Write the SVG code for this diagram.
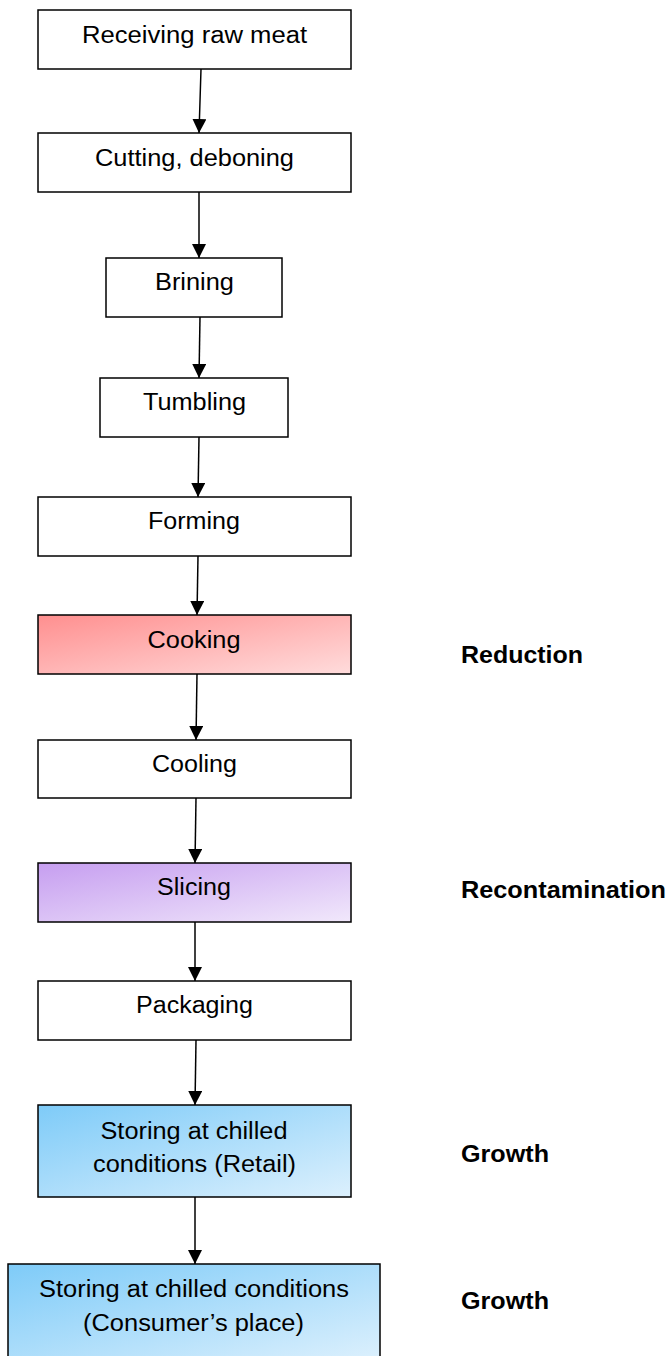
<svg xmlns="http://www.w3.org/2000/svg" width="669" height="1356" viewBox="0 0 669 1356">
<defs>
<linearGradient id="gRed" x1="0" y1="0" x2="1" y2="1"><stop offset="0" stop-color="#ff8f8f"/><stop offset="1" stop-color="#ffdcdc"/></linearGradient>
<linearGradient id="gPur" x1="0" y1="0" x2="1" y2="1"><stop offset="0" stop-color="#c69ef0"/><stop offset="1" stop-color="#f1e8fb"/></linearGradient>
<linearGradient id="gBlue" x1="0" y1="0" x2="1" y2="1"><stop offset="0" stop-color="#7ecbf8"/><stop offset="1" stop-color="#dcf0fd"/></linearGradient>
<marker id="arr" viewBox="0 0 10 10" refX="10" refY="5" markerWidth="14" markerHeight="14" markerUnits="userSpaceOnUse" orient="auto"><path d="M0,0 L10,5 L0,10 Z" fill="#000"/></marker>
<style>
.box{fill:#fff;stroke:#000;stroke-width:1.5}
.t{font-family:"Liberation Sans",Arial,sans-serif;font-size:23px;fill:#000;text-anchor:middle}
.lab{font-family:"Liberation Sans",Arial,sans-serif;font-size:23px;font-weight:bold;fill:#000}
.c{stroke:#000;stroke-width:1.5;fill:none;marker-end:url(#arr)}
</style>
</defs>
<rect width="669" height="1356" fill="#fff"/>
<g id="connectors">
<line class="c" x1="201" y1="69" x2="199" y2="133"/>
<line class="c" x1="199" y1="192" x2="199" y2="258"/>
<line class="c" x1="200" y1="317" x2="199" y2="378"/>
<line class="c" x1="199" y1="437" x2="198" y2="497"/>
<line class="c" x1="198" y1="556" x2="197" y2="615"/>
<line class="c" x1="197" y1="674" x2="196" y2="740"/>
<line class="c" x1="196" y1="798" x2="195" y2="863"/>
<line class="c" x1="195" y1="922" x2="195" y2="981"/>
<line class="c" x1="196" y1="1040" x2="195" y2="1105"/>
<line class="c" x1="195" y1="1197" x2="195" y2="1264"/>
</g>
<g id="n1"><rect class="box" x="38" y="10" width="313" height="59"/><text class="t" x="194.5" y="43" textLength="225" lengthAdjust="spacingAndGlyphs">Receiving raw meat</text></g>
<g id="n2"><rect class="box" x="38" y="133" width="313" height="59"/><text class="t" x="194.5" y="166" textLength="199" lengthAdjust="spacingAndGlyphs">Cutting, deboning</text></g>
<g id="n3"><rect class="box" x="106" y="258" width="176" height="59"/><text class="t" x="194.5" y="290" textLength="79" lengthAdjust="spacingAndGlyphs">Brining</text></g>
<g id="n4"><rect class="box" x="100" y="378" width="188" height="59"/><text class="t" x="194.5" y="410" textLength="103" lengthAdjust="spacingAndGlyphs">Tumbling</text></g>
<g id="n5"><rect class="box" x="38" y="497" width="313" height="59"/><text class="t" x="194" y="529" textLength="92" lengthAdjust="spacingAndGlyphs">Forming</text></g>
<g id="n6"><rect class="box" x="38" y="615" width="313" height="59" style="fill:url(#gRed)"/><text class="t" x="194" y="648" textLength="93" lengthAdjust="spacingAndGlyphs">Cooking</text></g>
<g id="n7"><rect class="box" x="38" y="740" width="313" height="58"/><text class="t" x="194.5" y="772" textLength="85" lengthAdjust="spacingAndGlyphs">Cooling</text></g>
<g id="n8"><rect class="box" x="38" y="863" width="313" height="59" style="fill:url(#gPur)"/><text class="t" x="194" y="895" textLength="74" lengthAdjust="spacingAndGlyphs">Slicing</text></g>
<g id="n9"><rect class="box" x="38" y="981" width="313" height="59"/><text class="t" x="194.5" y="1013" textLength="117" lengthAdjust="spacingAndGlyphs">Packaging</text></g>
<g id="n10"><rect class="box" x="38" y="1105" width="313" height="92" style="fill:url(#gBlue)"/><text class="t" x="194" y="1139" textLength="187" lengthAdjust="spacingAndGlyphs">Storing at chilled</text><text class="t" x="194.5" y="1172" textLength="203" lengthAdjust="spacingAndGlyphs">conditions (Retail)</text></g>
<g id="n11"><rect class="box" x="8" y="1264" width="372" height="96" style="fill:url(#gBlue)"/><text class="t" x="194" y="1297" textLength="310" lengthAdjust="spacingAndGlyphs">Storing at chilled conditions</text><text class="t" x="193.5" y="1331" textLength="221" lengthAdjust="spacingAndGlyphs">(Consumer’s place)</text></g>
<g id="labels">
<text class="lab" x="461" y="663" textLength="122" lengthAdjust="spacingAndGlyphs">Reduction</text>
<text class="lab" x="461" y="898" textLength="205" lengthAdjust="spacingAndGlyphs">Recontamination</text>
<text class="lab" x="461" y="1162" textLength="88" lengthAdjust="spacingAndGlyphs">Growth</text>
<text class="lab" x="461" y="1309" textLength="88" lengthAdjust="spacingAndGlyphs">Growth</text>
</g>
</svg>
